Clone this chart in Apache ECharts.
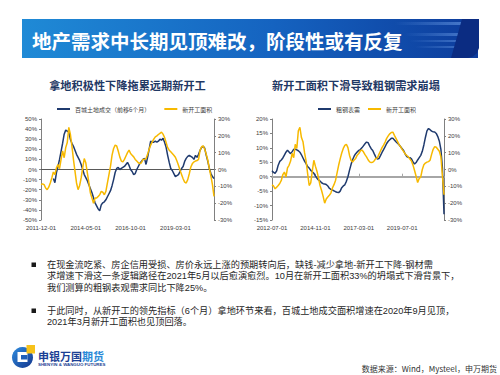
<!DOCTYPE html>
<html><head><meta charset="utf-8">
<script src="https://cdn.jsdelivr.net/npm/echarts@6/dist/echarts.min.js"></script>
<style>html,body{margin:0;padding:0;background:#fff}#c{width:500px;height:375px}</style>
</head><body><div id="c"></div>
<script>
function months(y, m, n) { const out = []; for (let k = 0; k < n; k++) { const mm = (m - 1 + k) % 12 + 1; const yy = y + Math.floor((m - 1 + k) / 12); out.push(yy + '-' + (mm < 10 ? '0' : '') + mm + '-01'); } return out; }
// categories
const leftDates = months(2011, 12, 113);
const rightDates = months(2012, 7, 112);
// left chart: 百城土地成交（前移6个月） (left axis, %)
const landDeals = [null,null,null,null,null,null,null,null,
  -9,-13,-3,3,10,18,26,35,39,38,37,30,
  26,23,19,15,12,9,5,0,-5,-8,
  -11,-15,-19,-23,-28,-33,-36,-39,-41,-35,
  -33,-32,-30,-27,-24,-21,-16,-10,-3,1,
  2,0,1,2,3,5,7,4,0,-2,
  -5,-4,0,3,6,8,10,11,5,12,
  20,28,27,27,28,27,28,30,29,31,
  27,22,14,7,1,-1,-4,-7,-6,-5,
  -2,1,3,8,11,13,14,13,12,10,
  14,12,15,19,22,23,21,14,8,1,
  -4,-7,-9];
// left chart: 新开工面积 (right axis, %)
const startsLeft = [-9,-8.5,-9,-11,-12,-10.5,-8,-5,-1.5,-3,
  1,3,0.5,6,11,7,13,16,25,21,
  14,6,-1,-8,-12,-9.5,-5,1,6.5,4,
  -2,-8,-14,-17,-20,-17,-17,-16,-15,-13,
  -13.5,-15,-13,-8,-3,2,8.5,12.5,14.5,14,
  11,7.5,5,4.5,6,8,10,11.5,9.5,8.5,
  7.5,6,5,4,3.5,4,6,6,6.5,9,
  12,14.5,16.4,18,19.4,20,20.8,21.5,22.2,21,
  19,16,13,11.5,10.5,9.5,8.5,7.3,5,2.5,
  -0.5,-3,-5.5,-7.5,-8,-6,-2.5,1.5,3.5,4.5,
  5,5.3,6,11.5,13.5,14,12,9,5.5,0.5,
  -4,-9,-16];
// right chart: 粗钢表需 (left axis, %)
const steelDemand = [2.1,1.5,1.2,2,4,5.3,5.8,6.5,7.5,8.5,
  9.2,8.6,8,8.7,9.5,9.5,9.3,9,8.5,7.6,
  6.5,5.4,4.5,3.5,3,2.2,1.7,1.2,0.3,-0.5,
  -1.1,-1.5,-2.1,-2.4,-2.5,-2.7,-3.2,-4,-4.4,-4.6,
  -4.9,-5.2,-5.4,-5.5,-5,-3.8,-3.2,-2.8,-1.6,0,
  2.2,4.2,5.9,7.1,8,8.6,9.1,9.4,10,10.7,
  11.4,12,11.8,10.7,9.7,9.1,7.9,6.8,6.1,6.3,
  7.3,8.4,9.4,10.4,11.5,12.3,12.8,13.3,13.3,12.7,
  12.1,11.6,11.1,10.4,9.7,9,7.8,7,6.7,6.6,
  6.2,5.1,4.4,4.9,5.8,6.6,7.4,8.8,11,13.6,
  15.9,16.7,16.3,15.8,15.6,15.5,15,13.9,12.3,9.5,
  3,-13];
// right chart: 新开工面积 (right axis, %)
const startsRight = [-9.2,-9.8,-11.5,-10.5,-9.5,-8.3,-6.5,-3,-1.5,-4.5,
  1,2.5,5,9.6,7,15,12.5,23,25,19,
  16.5,10,5,-2.5,-9.5,-8,-1,5.5,2,-1,
  -5,-9.5,-12.5,-16,-20,-17.5,-16.3,-15.3,-14,-11,
  -9,-6.5,-2,2.5,6.3,9.8,12.5,14.3,15,13,
  8.5,5.5,4.5,5.6,6.6,8.5,9.5,11,11.6,10.5,
  8.8,7.5,5.8,4.5,4.1,4.3,5.2,6.6,6.8,9,
  11,13,14.5,16.3,18.5,20,21.2,22,22.2,20.3,
  18.5,16.7,14.8,13.5,12,10.6,9.2,8.3,7.5,6.2,
  5,2.6,-0.6,-4,-7.7,-5.4,-4.4,0,2.8,3.8,
  4.4,4.7,5.5,9,12,13.6,13.2,12,10.8,7.6,
  -4,-15];
// body text
const bullet1 = ['在现金流吃紧、房企信用受损、房价永远上涨的预期转向后，缺钱-减少拿地-新开工下降-钢材需',
  '求增速下滑这一条逻辑路径在2021年5月以后愈演愈烈。10月在新开工面积33%的坍塌式下滑背景下，',
  '我们测算的粗钢表观需求同比下降25%。'];
const bullet2 = ['于此同时，从新开工的领先指标（6个月）拿地环节来看，百城土地成交面积增速在2020年9月见顶，',
  '2021年3月新开工面积也见顶回落。'];

const NAVY = '#1f3a6e', YELLOW = '#f7b900';
const CJK = '"Noto Sans CJK SC", sans-serif';
const MIX = '"Liberation Sans", "Noto Sans CJK SC", sans-serif';
const LAT = '"Liberation Sans", Arial, sans-serif';
const lbl = { color: '#404040', fontSize: 6, fontFamily: LAT };

function yAx(grid, pos, min, max, itv) {
  return { type: 'value', gridIndex: grid, position: pos, min: min, max: max, interval: itv,
    axisLine: { show: true, onZero: false, lineStyle: { color: '#808080', width: 1 } },
    axisTick: { show: true, length: 2, lineStyle: { color: '#808080' } },
    splitLine: { show: false },
    axisLabel: Object.assign({ formatter: '{value}%', margin: 4 }, lbl) };
}
function xLab(grid, data, step) {
  return { type: 'category', gridIndex: grid, data: data, boundaryGap: false, position: 'bottom',
    axisLine: { show: false, onZero: false }, axisTick: { show: false },
    axisLabel: Object.assign({ interval: function (i) { return i % step === 0; }, margin: 5, hideOverlap: false }, lbl) };
}
function xZero(grid, data, color, w, ticks, step) {
  return { type: 'category', gridIndex: grid, data: data, boundaryGap: false, position: 'bottom',
    axisLine: { show: true, onZero: true, lineStyle: { color: color, width: w } },
    axisTick: { show: ticks, inside: true, length: 3, interval: function (i) { return i % step === 0; }, lineStyle: { color: color, width: 1 } },
    axisLabel: { show: false } };
}
function ln(name, x, y, data, color) {
  return { name: name, type: 'line', xAxisIndex: x, yAxisIndex: y, data: data, symbol: 'none',
    connectNulls: false, lineStyle: { color: color, width: 1.5 }, itemStyle: { color: color }, z: 3 };
}
function txt(t, x, y, size, color, weight, align, family) {
  return { type: 'text', z: 10, style: { text: t, x: x, y: y, fill: color,
    font: (weight || 'normal') + ' ' + size + 'px ' + (family || CJK),
    textAlign: align || 'left', textVerticalAlign: 'middle' } };
}

const chart = echarts.init(document.getElementById('c'), null, { renderer: 'svg' });
const graphics = [
    // banner
    { type: 'rect', z: 1, shape: { x: 22, y: 19, width: 456, height: 39 },
      style: { fill: { type: 'linear', x: 0, y: 0, x2: 1, y2: 0,
        colorStops: [{ offset: 0, color: '#1f8ad6' }, { offset: 0.55, color: '#1563c0' }, { offset: 1, color: '#0d3c9c' }] } } },
    { type: 'polygon', z: 2, shape: { points: [[395, 22], [466, 22], [465, 25], [395, 25]] },
      style: { fill: { type: 'linear', x: 0, y: 0, x2: 1, y2: 0, colorStops: [{ offset: 0, color: 'rgba(120,170,240,0)' }, { offset: 1, color: 'rgba(120,170,240,0.55)' }] } } },
    { type: 'polygon', z: 2, shape: { points: [[405, 33], [463, 33], [462, 36], [405, 36]] },
      style: { fill: { type: 'linear', x: 0, y: 0, x2: 1, y2: 0, colorStops: [{ offset: 0, color: 'rgba(120,170,240,0)' }, { offset: 1, color: 'rgba(120,170,240,0.5)' }] } } },
    { type: 'polygon', z: 2, shape: { points: [[410, 40], [460, 40], [459, 42], [410, 42]] },
      style: { fill: { type: 'linear', x: 0, y: 0, x2: 1, y2: 0, colorStops: [{ offset: 0, color: 'rgba(120,170,240,0)' }, { offset: 1, color: 'rgba(120,170,240,0.45)' }] } } },
    { type: 'polygon', z: 2, shape: { points: [[415, 46], [457, 46], [456, 48], [415, 48]] },
      style: { fill: { type: 'linear', x: 0, y: 0, x2: 1, y2: 0, colorStops: [{ offset: 0, color: 'rgba(120,170,240,0)' }, { offset: 1, color: 'rgba(120,170,240,0.4)' }] } } },
    { type: 'polygon', z: 2, shape: { points: [[462, 19], [479, 19], [479, 48], [477, 53], [473, 56.5], [468, 58], [451, 58]] },
      style: { fill: '#0b2c82' } },
    txt('地产需求中长期见顶难改，阶段性或有反复', 32, 40, 19.5, '#ffffff', 'bold'),
    // chart titles
    txt('拿地积极性下降拖累远期新开工', 127.5, 85, 11.2, '#1f3864', 'bold', 'center'),
    txt('新开工面积下滑导致粗钢需求崩塌', 356, 85, 11.2, '#1f3864', 'bold', 'center'),
    // bullets
    { type: 'rect', shape: { x: 31.5, y: 262.5, width: 4.5, height: 4.5 }, style: { fill: '#1a1a1a' } },
    { type: 'rect', shape: { x: 31.5, y: 308.5, width: 4.5, height: 4.5 }, style: { fill: '#1a1a1a' } },
    // logo
    { type: 'circle', shape: { cx: 22.5, cy: 357.5, r: 10.5 },
      style: { fill: { type: 'linear', x: 0, y: 0, x2: 1, y2: 1, colorStops: [{ offset: 0, color: '#2f8de0' }, { offset: 1, color: '#14358c' }] } } },
    { type: 'rect', shape: { x: 17.5, y: 352, width: 10, height: 10 }, style: { fill: '#ffffff' } },
    { type: 'rect', shape: { x: 21, y: 355, width: 6.5, height: 4.5 }, style: { fill: '#1f5fb8' } },
    { type: 'rect', shape: { x: 26.5, y: 345, width: 8.5, height: 8.5 }, style: { fill: '#f7c21a' } },
    txt('申银万国', 38, 355.5, 11, '#1b3f94', 'bold'),
    txt('期货', 82, 355.5, 11, '#2b8ad8', 'bold'),
    txt('SHENYIN & WANGUO FUTURES', 38, 364.5, 4.4, '#1b3f94', 'bold', 'left', LAT),
    txt('数据来源：Wind，Mysteel，申万期货', 497, 368, 8, '#333333', 'normal', 'right')
];
bullet1.forEach(function (s, k) { graphics.push(txt(s, 47, 265 + k * 11.4, 9.2, '#262626', 'normal', 'left', MIX)); });
bullet2.forEach(function (s, k) { graphics.push(txt(s, 47, 310.8 + k * 11.4, 9.2, '#262626', 'normal', 'left', MIX)); });

chart.setOption({
  backgroundColor: '#fff',
  animation: false,
  grid: [
    { left: 41, top: 119, width: 173, height: 101 },
    { left: 272, top: 119, width: 172, height: 101 }
  ],
  legend: [
    { left: 52, top: 101, icon: 'rect', itemWidth: 13, itemHeight: 2, itemGap: 14,
      textStyle: { fontSize: 6, color: '#404040', fontFamily: CJK },
      data: ['百城土地成交（前移6个月）', '新开工面积'] },
    { left: 313, top: 101, icon: 'rect', itemWidth: 13, itemHeight: 2, itemGap: 8,
      textStyle: { fontSize: 6, color: '#404040', fontFamily: CJK },
      data: ['粗钢表需', { name: '新开工面积' }] }
  ],
  xAxis: [
    xLab(0, leftDates, 29),
    xZero(0, leftDates, '#595959', 1, false, 29),
    xLab(1, rightDates, 28),
    xZero(1, rightDates, '#a6a6a6', 2, true, 28)
  ],
  yAxis: [
    yAx(0, 'left', -50, 50, 10),
    yAx(0, 'right', -30, 30, 10),
    yAx(1, 'left', -15, 20, 5),
    yAx(1, 'right', -30, 30, 10)
  ],
  series: [
    ln('百城土地成交（前移6个月）', 0, 0, landDeals, NAVY),
    ln('新开工面积', 0, 1, startsLeft, YELLOW),
    ln('粗钢表需', 2, 2, steelDemand, NAVY),
    ln('新开工面积', 2, 3, startsRight, YELLOW)
  ],
  graphic: graphics
});
</script></body></html>
